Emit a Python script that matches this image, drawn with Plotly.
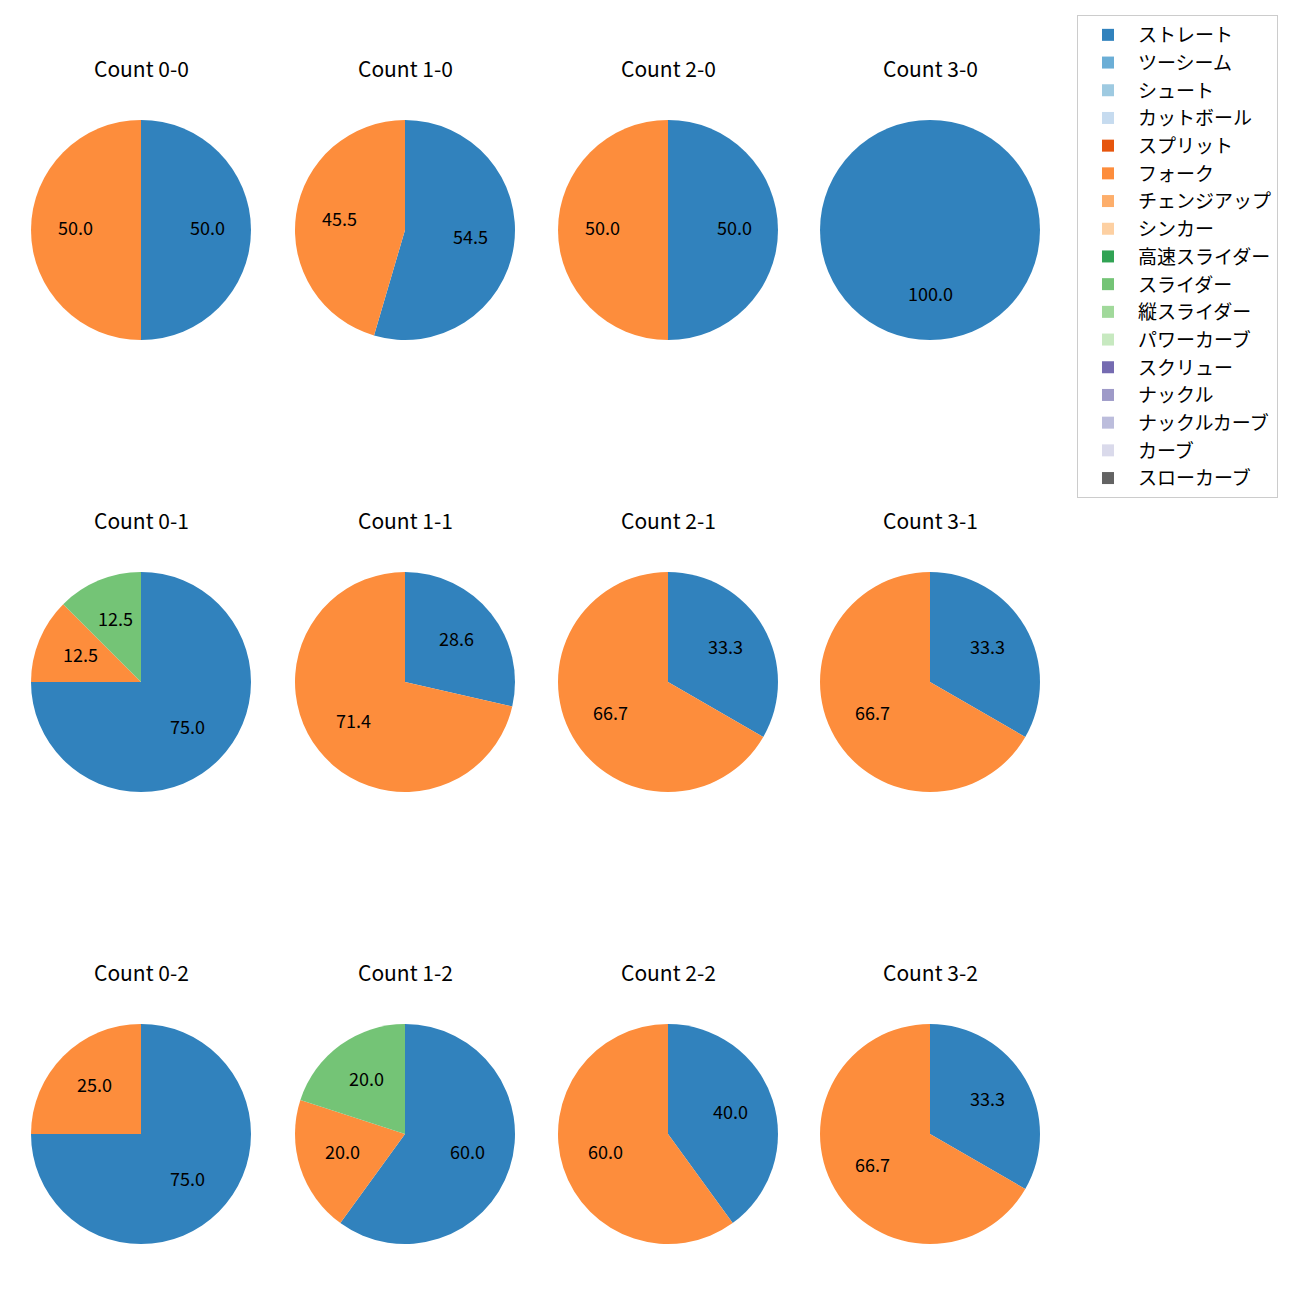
import math
import plotly.graph_objects as go

pitch_types = ["ストレート", "ツーシーム", "シュート", "カットボール", "スプリット", "フォーク",
               "チェンジアップ", "シンカー", "高速スライダー", "スライダー", "縦スライダー",
               "パワーカーブ", "スクリュー", "ナックル", "ナックルカーブ", "カーブ", "スローカーブ"]
colors = ["#3182bd", "#6baed6", "#9ecae1", "#c6dbef", "#e6550d", "#fd8d3c", "#fdae6b", "#fdd0a2",
          "#31a354", "#74c476", "#a1d99b", "#c7e9c0", "#756bb1", "#9e9ac8", "#bcbddc", "#dadaeb",
          "#636363"]

counts = ["0-0", "1-0", "2-0", "3-0",
          "0-1", "1-1", "2-1", "3-1",
          "0-2", "1-2", "2-2", "3-2"]
# pitch counts per count situation: (ストレート, フォーク, スライダー)
straight = [1, 6, 1, 1, 6, 2, 1, 1, 3, 3, 2, 1]
fork     = [1, 5, 1, 0, 1, 5, 2, 2, 1, 1, 3, 2]
slider   = [0, 0, 0, 0, 1, 0, 0, 0, 0, 1, 0, 0]

W = H = 1300
col_cx = [141, 405, 668, 930]
row_cy = [230, 682, 1134]
R = 110

fig = go.Figure()
annotations = []
for i, c in enumerate(counts):
    row, col = divmod(i, 4)
    cx, cy = col_cx[col], row_cy[row]
    vals = [0.0] * len(pitch_types)
    vals[pitch_types.index("ストレート")] = straight[i]
    vals[pitch_types.index("フォーク")] = fork[i]
    vals[pitch_types.index("スライダー")] = slider[i]
    total = sum(vals)
    fig.add_trace(go.Pie(
        labels=pitch_types, values=vals, sort=False, direction="clockwise", rotation=0,
        marker=dict(colors=colors, line=dict(width=0)),
        textinfo="none", hoverinfo="label+percent", showlegend=(i == 0),
        domain=dict(x=[(cx - R) / W, (cx + R) / W], y=[1 - (cy + R) / H, 1 - (cy - R) / H]),
    ))
    cum = 0.0
    for v in vals:
        if v <= 0:
            continue
        frac = v / total
        mid = math.radians(90 - (cum + frac / 2) * 360)
        cum += frac
        px = cx + 0.6 * R * math.cos(mid)
        py = cy - 0.6 * R * math.sin(mid) - 3
        annotations.append(dict(x=px / W, y=1 - py / H, xref="paper", yref="paper",
                                text=f"{frac * 100:.1f}", showarrow=False,
                                font=dict(size=18, color="black"),
                                xanchor="center", yanchor="middle"))
    annotations.append(dict(x=cx / W, y=1 - (cy - 162.5) / H, xref="paper", yref="paper",
                            text=f"Count {c}", showarrow=False,
                            font=dict(size=21, color="black"),
                            xanchor="center", yanchor="middle"))

fig.update_layout(
    width=W, height=H, margin=dict(l=0, r=0, t=0, b=0),
    paper_bgcolor="white", plot_bgcolor="white",
    font=dict(family="Noto Sans CJK JP, sans-serif", color="black"),
    annotations=annotations,
    legend=dict(x=1077 / W, y=1 - 15 / H, xanchor="left", yanchor="top",
                font=dict(size=19), bordercolor="#cccccc", borderwidth=1,
                bgcolor="white", traceorder="normal", itemwidth=50),
)
fig.write_html("out.html")
